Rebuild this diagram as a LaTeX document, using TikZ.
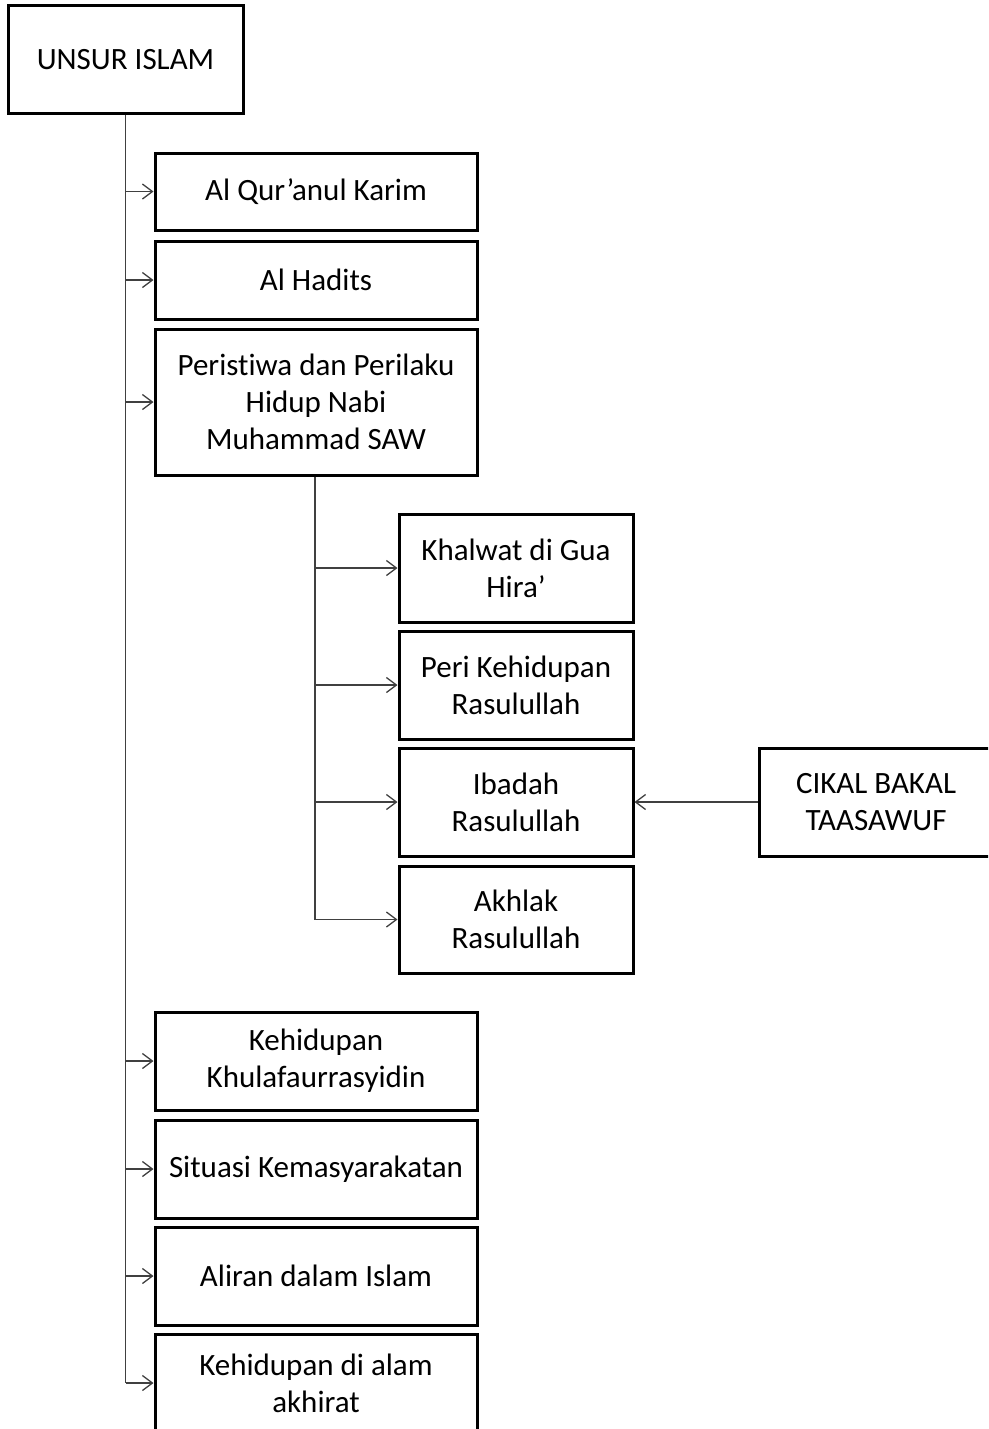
\documentclass[tikz,border=0pt]{standalone}
\usepackage{fontspec}
\setmainfont{Carlito}[Ligatures=NoCommon]
\usetikzlibrary{arrows.meta}
\begin{document}
\begin{tikzpicture}[x=1pt,y=-1pt,
  box/.style={draw=black, line width=3pt, fill=white, align=center, inner sep=0pt,
    font=\fontsize{31}{37}\selectfont},
  conn/.style={draw=black!75, line width=1.3pt},
  arr/.style={conn, -{Straight Barb[length=10pt,width=15pt,line width=1.3pt]}}]
\useasboundingbox (0,0) rectangle (988,1429);
\clip (0,0) rectangle (988,1429);
\node[box, minimum width=235pt, minimum height=107pt] (U) at (125.5,59.5) {UNSUR ISLAM};
\node[box, minimum width=322pt, minimum height=77pt] (Q) at (316,191.5) {Al Qur’anul Karim};
\node[box, minimum width=322pt, minimum height=78pt] (H) at (316,280) {Al Hadits};
\node[box, minimum width=322pt, minimum height=146pt] (P) at (316,402) {Peristiwa dan Perilaku\\Hidup Nabi\\Muhammad SAW};
\node[box, minimum width=234pt, minimum height=108pt] (K1) at (516,568) {Khalwat di Gua\\Hira’};
\node[box, minimum width=234pt, minimum height=108pt] (K2) at (516,685) {Peri Kehidupan\\Rasulullah};
\node[box, minimum width=234pt, minimum height=108pt] (K3) at (516,802) {Ibadah\\Rasulullah};
\node[box, minimum width=234pt, minimum height=107pt] (K4) at (516,919.5) {Akhlak\\Rasulullah};
\node[box, minimum width=234pt, minimum height=108pt] (C) at (876,802) {CIKAL BAKAL\\TAASAWUF};
\node[box, minimum width=322pt, minimum height=98pt] (B1) at (316,1061) {Kehidupan\\Khulafaurrasyidin};
\node[box, minimum width=322pt, minimum height=98pt] (B2) at (316,1169) {Situasi Kemasyarakatan};
\node[box, minimum width=322pt, minimum height=98pt] (B3) at (316,1276) {Aliran dalam Islam};
\node[box, minimum width=322pt, minimum height=98pt] (B4) at (316,1383) {Kehidupan di alam\\akhirat};
% trunk 1
\draw[conn] (U.south) -- (U.south |- B4.west);
\foreach \n in {Q,H,P,B1,B2,B3,B4} \draw[arr] (U.south |- \n.west) -- (\n.west);
% trunk 2
\coordinate (T) at ([xshift=-1pt]P.south);
\draw[conn] (T) -- (T |- K4.west);
\foreach \n in {K1,K2,K3,K4} \draw[arr] (T |- \n.west) -- (\n.west);
\draw[arr] (C.west) -- (K3.east);
\end{tikzpicture}
\end{document}
